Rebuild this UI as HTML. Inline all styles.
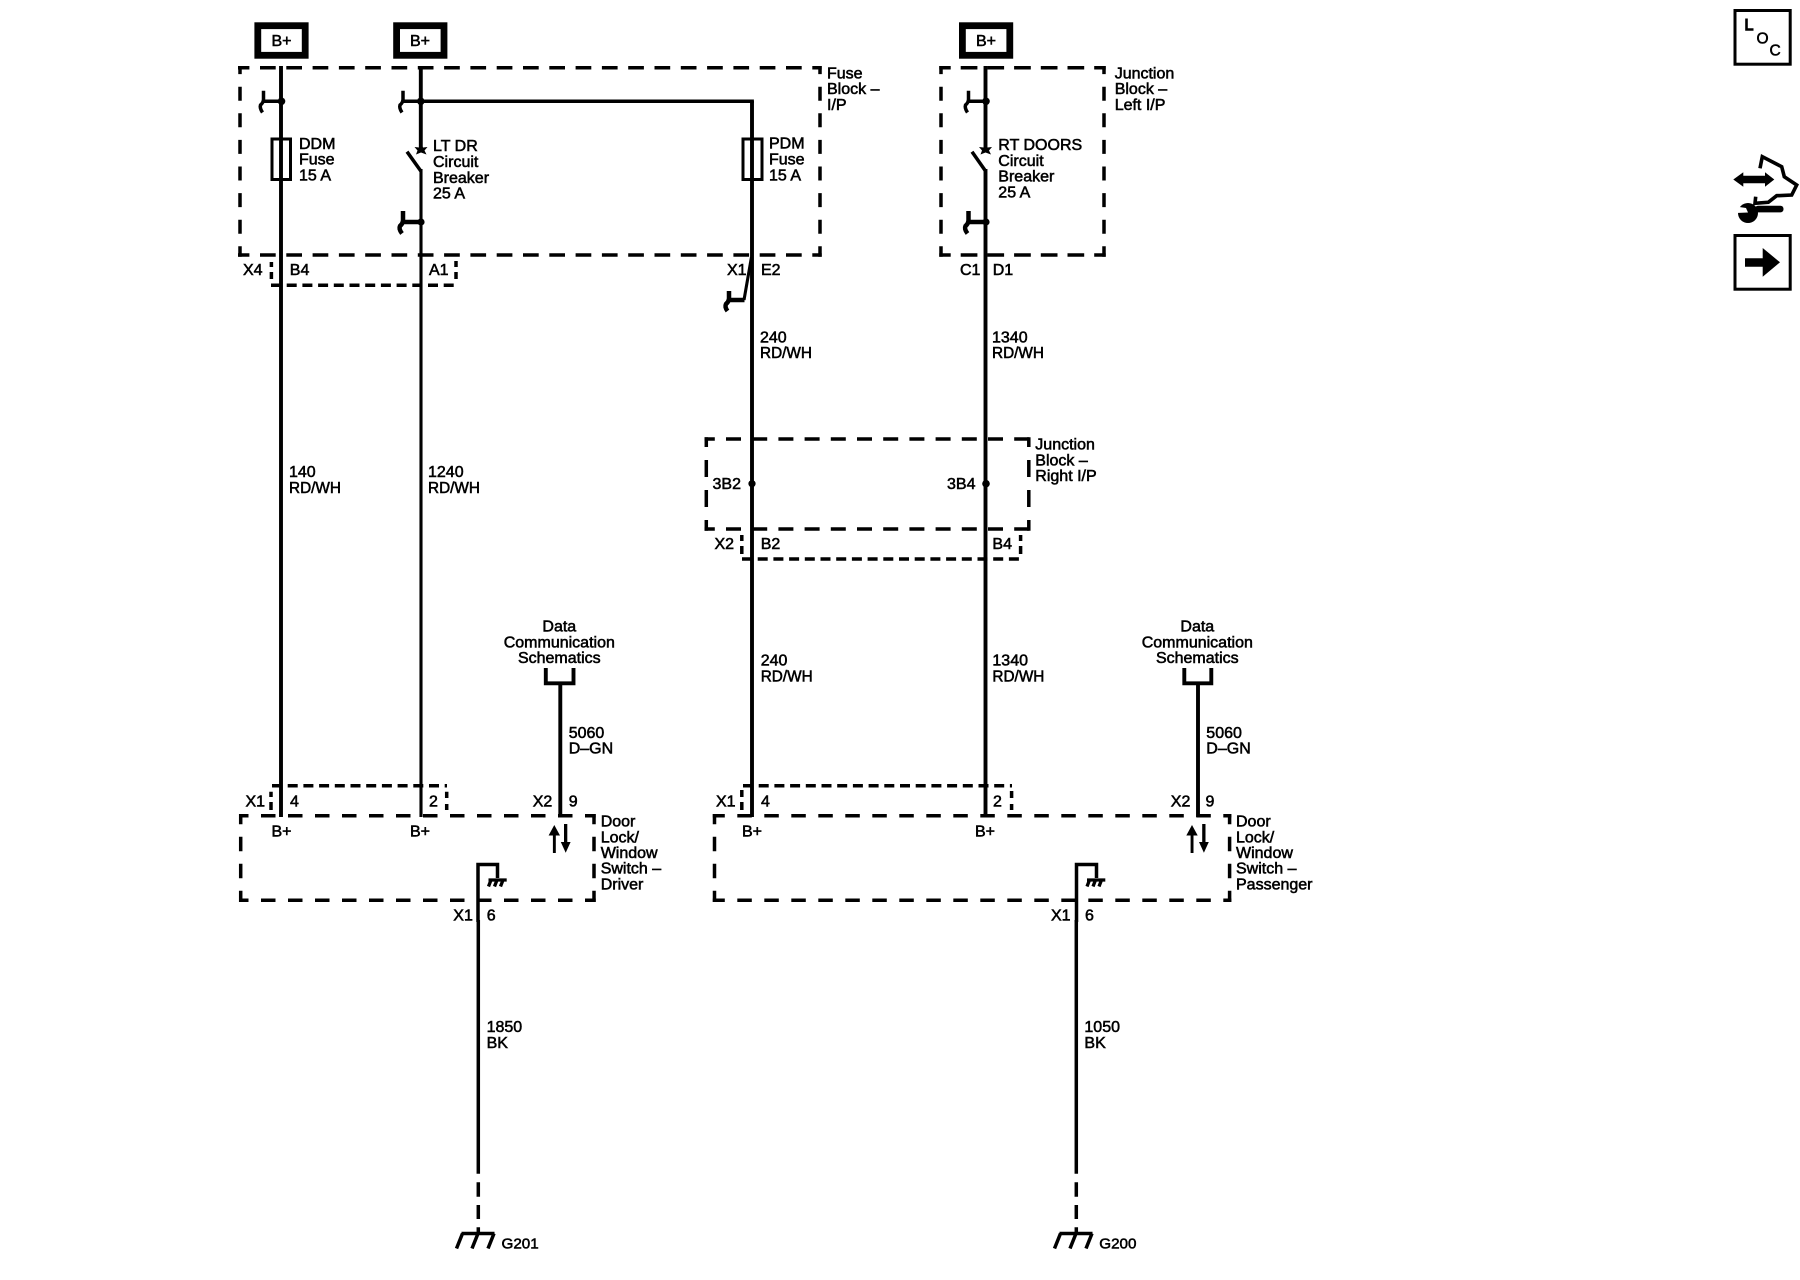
<!DOCTYPE html>
<html><head><meta charset="utf-8"><style>
html,body{margin:0;padding:0;background:#fff}
svg{display:block}
text{font-family:"Liberation Sans",sans-serif;font-size:16px;fill:#000;stroke:#000;stroke-width:.55}
.w{stroke:#000;stroke-width:3.9;fill:none}
.t{stroke:#000;stroke-width:3.1;fill:none}
.u{stroke:#000;stroke-width:3.5;fill:none}
.k{stroke:#000;stroke-width:4.5;fill:none}
.d{stroke:#000;stroke-width:3.5;fill:none}
.s{stroke:#000;stroke-width:3.5;fill:none;stroke-dasharray:10 5.7}
</style></head><body>
<svg width="1800" height="1280" viewBox="0 0 1800 1280" xmlns="http://www.w3.org/2000/svg">
<rect width="1800" height="1280" fill="#fff"/>

<!-- B+ boxes -->
<g fill="none" stroke="#000" stroke-width="6.8">
<rect x="257.8" y="25.7" width="47.4" height="29.6"/>
<rect x="396.6" y="25.7" width="47.4" height="29.6"/>
<rect x="962.4" y="25.7" width="47.4" height="29.6"/>
</g>
<text x="271.5" y="46">B+</text>
<text x="410" y="46">B+</text>
<text x="976" y="46">B+</text>

<!-- Fuse block dashed -->
<line class="d" x1="238" y1="67.7" x2="821.7" y2="67.7" stroke-dasharray="15.7 10.6" stroke-dashoffset="4.3"/>
<line class="d" x1="238" y1="255" x2="821.7" y2="255" stroke-dasharray="15.7 10.6" stroke-dashoffset="4.3"/>
<line class="d" x1="240" y1="66" x2="240" y2="256.7" stroke-dasharray="14 12.6" stroke-dashoffset="5.9"/>
<line class="d" x1="820" y1="66" x2="820" y2="256.7" stroke-dasharray="14 12.6" stroke-dashoffset="5.9"/>
<!-- Left jct dashed -->
<line class="d" x1="939.3" y1="67.7" x2="1105.7" y2="67.7" stroke-dasharray="16.7 10" stroke-dashoffset="5.3"/>
<line class="d" x1="939.3" y1="255" x2="1105.7" y2="255" stroke-dasharray="16.7 10" stroke-dashoffset="5.3"/>
<line class="d" x1="941" y1="66" x2="941" y2="256.7" stroke-dasharray="14 12.6" stroke-dashoffset="5.9"/>
<line class="d" x1="1104" y1="66" x2="1104" y2="256.7" stroke-dasharray="14 12.6" stroke-dashoffset="5.9"/>
<!-- Right jct dashed -->
<line class="d" x1="704.5" y1="439" x2="1030.5" y2="439" stroke-dasharray="15 11.2" stroke-dashoffset="4.7"/>
<line class="d" x1="704.5" y1="529" x2="1030.5" y2="529" stroke-dasharray="15 11.2" stroke-dashoffset="4.7"/>
<line class="d" x1="706.3" y1="437.3" x2="706.3" y2="530.7" stroke-dasharray="17 13" stroke-dashoffset="7.3"/>
<line class="d" x1="1028.8" y1="437.3" x2="1028.8" y2="530.7" stroke-dasharray="17 13" stroke-dashoffset="7.3"/>
<!-- Door boxes -->
<line class="d" x1="239" y1="815.7" x2="595.7" y2="815.7" stroke-dasharray="14.5 12.5" stroke-dashoffset="5"/>
<line class="d" x1="239" y1="900.3" x2="595.7" y2="900.3" stroke-dasharray="14.5 12.5" stroke-dashoffset="5"/>
<line class="d" x1="240.7" y1="814" x2="240.7" y2="902" stroke-dasharray="14.5 12.5" stroke-dashoffset="4.3"/>
<line class="d" x1="594" y1="814" x2="594" y2="902" stroke-dasharray="14.5 12.5" stroke-dashoffset="4.3"/>
<line class="d" x1="712.8" y1="815.7" x2="1231.3" y2="815.7" stroke-dasharray="14.5 12.5" stroke-dashoffset="2.5"/>
<line class="d" x1="712.8" y1="900.3" x2="1231.3" y2="900.3" stroke-dasharray="14.5 12.5" stroke-dashoffset="2.5"/>
<line class="d" x1="714.5" y1="814" x2="714.5" y2="902" stroke-dasharray="14.5 12.5" stroke-dashoffset="4.3"/>
<line class="d" x1="1229.6" y1="814" x2="1229.6" y2="902" stroke-dasharray="14.5 12.5" stroke-dashoffset="4.3"/>

<!-- Small connector dashes -->
<line class="s" x1="271" y1="285.3" x2="456" y2="285.3"/>
<path class="d" d="M271.4 262V267M271.4 272V279M456 261V267M456 272V279"/>
<line class="s" x1="742" y1="559" x2="1021" y2="559"/>
<path class="d" d="M741.8 535V541M741.8 546V554M1020.6 535V541M1020.6 546V554"/>
<line class="s" x1="272" y1="785.7" x2="447" y2="785.7"/>
<path class="d" d="M271 791.7V797M271 802V810M446.7 791.7V798M446.7 804V810"/>
<line class="s" x1="743" y1="785.7" x2="1012" y2="785.7"/>
<path class="d" d="M741.8 790V797M741.8 802V810M1011.6 791V798M1011.6 804V810"/>

<!-- Vertical wires -->
<line class="w" x1="281" y1="66" x2="281" y2="817"/>
<line class="w" x1="420.8" y1="66" x2="420.8" y2="148"/>
<line class="t" x1="421" y1="169" x2="421" y2="817"/>
<line class="w" x1="752" y1="101" x2="752" y2="817"/>
<line class="w" x1="985.5" y1="66" x2="985.5" y2="148"/>
<line class="w" x1="985.5" y1="169" x2="985.5" y2="817"/>
<line class="u" x1="419" y1="101.3" x2="753.9" y2="101.3"/>

<!-- Stubs & dots -->
<g fill="#000">
<circle cx="281.5" cy="101.3" r="3.8"/><circle cx="420.8" cy="101.3" r="3.8"/><circle cx="986" cy="101.3" r="3.8"/>
<circle cx="421" cy="222" r="3.6"/><circle cx="986" cy="222" r="3.6"/>
<circle cx="752" cy="483.7" r="3.6"/><circle cx="986" cy="483.7" r="3.8"/>
</g>
<path class="u" d="M263.5 90.7V101.3H281"/>
<path class="u" d="M263.5 100Q263 103 260.5 105Q259.5 108 262.5 112.5"/>
<path class="u" d="M403 90.7V101.3H420"/>
<path class="u" d="M403 100Q402.5 103 400 105Q399 108 402 112.5"/>
<path class="u" d="M968.5 90.7V101.3H985"/>
<path class="u" d="M968.5 100Q968 103 965.5 105Q964.5 108 967.5 112.5"/>
<path class="k" d="M403 211V222H421"/>
<path class="k" d="M403 221Q402.5 224 400 226Q398.5 229 402 233.5"/>
<path class="k" d="M968.5 211V222H986"/>
<path class="k" d="M968.5 221Q968 224 965.5 226Q964 229 967.5 233.5"/>
<!-- PDM pigtail -->
<path class="t" d="M751.5 257L744 300"/>
<path class="k" d="M744.5 300H729V291"/>
<path class="k" d="M729 299Q728.5 302 726 304Q724.5 307 727.5 311"/>

<!-- Fuses -->
<rect x="272" y="139" width="18.5" height="40.5" fill="none" stroke="#000" stroke-width="3"/>
<rect x="743" y="139" width="19" height="40.5" fill="none" stroke="#000" stroke-width="3"/>

<!-- Breakers -->
<path class="u" d="M407 151.7L420.8 171"/>
<path class="u" d="M972 151.7L985.5 171"/>
<path fill="#000" d="M421 143.5L423 147.5L427.5 147L424.5 150.5L426.5 154.5L421 152.5L416 154.5L417.5 150.5L414.5 147L419 147.5Z"/>
<path fill="#000" d="M985.5 143.5L987.5 147.5L992 147L989 150.5L991 154.5L985.5 152.5L980.5 154.5L982 150.5L979 147L983.5 147.5Z"/>

<!-- Data comm drivers -->
<path class="w" d="M545.8 668V683.3H573.5V668"/>
<line class="w" x1="560.3" y1="684" x2="560.3" y2="817"/>
<path class="w" d="M1184.3 668V683.3H1211.3V668"/>
<line class="w" x1="1198" y1="684" x2="1198" y2="817"/>

<!-- arrows -->
<g fill="#000">
<rect x="552.9" y="833" width="2.9" height="20"/><path d="M554.3 825L560 835.5H548.6Z"/>
<rect x="564" y="824" width="3.3" height="20"/><path d="M565.7 852.7L560.8 842H570.6Z"/>
<rect x="1190.6" y="833" width="2.9" height="20"/><path d="M1192 825L1197.7 835.5H1186.3Z"/>
<rect x="1202.2" y="824" width="3.3" height="20"/><path d="M1203.9 852.7L1199 842H1208.8Z"/>
</g>

<!-- inner grounds -->
<path class="u" d="M478 922V864.5H497.5V878"/>
<path class="u" d="M1076.5 922V864.5H1096.5V878"/>
<path stroke="#000" stroke-width="3.3" fill="none" d="M488.5 880H506.7M491 880L488.5 886.5M497 880L494.5 886.5M503 880L500.5 886.5"/>
<path stroke="#000" stroke-width="3.3" fill="none" d="M1087 880H1105.3M1089.5 880L1087 886.5M1095.5 880L1093 886.5M1101.5 880L1099 886.5"/>

<!-- lower wires -->
<line class="u" x1="478.3" y1="920" x2="478.3" y2="1173.7"/>
<line class="u" x1="1076.3" y1="920" x2="1076.3" y2="1173.7"/>
<path class="u" d="M478.3 1182.3V1196.7M478.3 1205V1219M478.3 1227.3V1234"/>
<path class="u" d="M1076.3 1182.3V1196.7M1076.3 1205V1219M1076.3 1227.3V1234"/>
<path stroke="#000" stroke-width="3.5" fill="none" d="M461.5 1233.5H494.5M462.5 1233.5L456.5 1248.5M478 1233.5L472 1248.5M494 1233.5L488 1248.5"/>
<path stroke="#000" stroke-width="3.5" fill="none" d="M1059.5 1233.5H1092.5M1060.5 1233.5L1054.5 1248.5M1076 1233.5L1070 1248.5M1092 1233.5L1086 1248.5"/>

<!-- Top labels -->
<text x="299" y="149">DDM</text><text x="299" y="164.5">Fuse</text><text x="299" y="180.5">15 A</text>
<text x="433" y="151.2">LT DR</text><text x="433" y="167">Circuit</text><text x="433" y="183">Breaker</text><text x="433" y="198.5">25 A</text>
<text x="769" y="148.5">PDM</text><text x="769" y="164.3">Fuse</text><text x="769" y="180.3">15 A</text>
<text x="827" y="78.3">Fuse</text><text x="827" y="94">Block –</text><text x="827" y="110">I/P</text>
<text x="998.3" y="150">RT DOORS</text><text x="998.3" y="166">Circuit</text><text x="998.3" y="181.7">Breaker</text><text x="998.3" y="197.7">25 A</text>
<text x="1114.7" y="78.3">Junction</text><text x="1114.7" y="94">Block –</text><text x="1114.7" y="110">Left I/P</text>
<text x="243" y="275">X4</text><text x="289.8" y="275">B4</text><text x="429" y="275">A1</text>
<text x="727" y="275">X1</text><text x="761" y="275">E2</text>
<text x="960" y="275">C1</text><text x="992.7" y="275">D1</text>

<text x="760" y="342.3">240</text><text x="760" y="357.8" textLength="52" lengthAdjust="spacingAndGlyphs">RD/WH</text>
<text x="992" y="342.3">1340</text><text x="992" y="357.8" textLength="52" lengthAdjust="spacingAndGlyphs">RD/WH</text>
<text x="289" y="477">140</text><text x="289" y="493" textLength="52" lengthAdjust="spacingAndGlyphs">RD/WH</text>
<text x="428" y="477">1240</text><text x="428" y="493" textLength="52" lengthAdjust="spacingAndGlyphs">RD/WH</text>

<text x="1035.3" y="449.5">Junction</text><text x="1035.3" y="465.3">Block –</text><text x="1035.3" y="481">Right I/P</text>
<text x="712.5" y="489">3B2</text><text x="947" y="489">3B4</text>
<text x="714.5" y="549">X2</text><text x="760.7" y="549">B2</text><text x="992.4" y="549">B4</text>

<text x="760.7" y="665.7">240</text><text x="760.7" y="681.7" textLength="52" lengthAdjust="spacingAndGlyphs">RD/WH</text>
<text x="992.4" y="665.7">1340</text><text x="992.4" y="681.7" textLength="52" lengthAdjust="spacingAndGlyphs">RD/WH</text>

<g text-anchor="middle">
<text x="559.3" y="631.5">Data</text><text x="559.3" y="647.3">Communication</text><text x="559.3" y="663">Schematics</text>
<text x="1197.3" y="631.5">Data</text><text x="1197.3" y="647.3">Communication</text><text x="1197.3" y="663">Schematics</text>
<text x="281.5" y="836.5">B+</text><text x="420" y="836.5">B+</text><text x="752" y="836.5">B+</text><text x="985" y="836.5">B+</text>
</g>
<text x="568.7" y="738">5060</text><text x="568.7" y="753.7">D–GN</text>
<text x="1206.3" y="738">5060</text><text x="1206.3" y="753.7">D–GN</text>

<text x="245.5" y="806.7">X1</text><text x="290" y="806.7">4</text><text x="429" y="806.7">2</text><text x="532.7" y="806.7">X2</text><text x="568.7" y="806.7">9</text>
<text x="716" y="806.7">X1</text><text x="761" y="806.7">4</text><text x="993" y="806.7">2</text><text x="1170.8" y="806.7">X2</text><text x="1205.5" y="806.7">9</text>

<text x="600.7" y="826.7">Door</text><text x="600.7" y="842.3">Lock/</text><text x="600.7" y="858">Window</text><text x="600.7" y="873.7">Switch –</text><text x="600.7" y="889.3">Driver</text>
<text x="1236" y="826.7">Door</text><text x="1236" y="842.3">Lock/</text><text x="1236" y="858">Window</text><text x="1236" y="873.7">Switch –</text><text x="1236" y="889.3">Passenger</text>

<text x="453.3" y="920.5">X1</text><text x="486.7" y="920.5">6</text>
<text x="1051" y="920.5">X1</text><text x="1085" y="920.5">6</text>
<text x="486.6" y="1032">1850</text><text x="486.6" y="1048">BK</text>
<text x="1084.4" y="1032">1050</text><text x="1084.4" y="1048">BK</text>
<text x="501.5" y="1248.5" style="font-size:15.2px">G201</text>
<text x="1099.3" y="1248.5" style="font-size:15.2px">G200</text>

<!-- right icons -->
<rect x="1735" y="10.5" width="55.2" height="53.7" fill="none" stroke="#000" stroke-width="3"/>
<path fill="none" stroke="#000" stroke-width="2.6" d="M1746.5 18.5V29.5H1753.5"/>
<text x="1756.5" y="43.5" style="font-size:15.5px">O</text>
<text x="1769.5" y="55.5" style="font-size:15.5px">C</text>
<rect x="1735" y="235.5" width="55.2" height="53.7" fill="none" stroke="#000" stroke-width="3"/>
<path fill="#000" d="M1745 258.3H1762.7V248L1780 262.3L1762.7 276.7V266.7H1745Z"/>
<path fill="#000" d="M1733.3 179.5L1743.3 172.3V175.7H1765V172.3L1774.3 179.5L1765 186.7V183.3H1743.3V186.7Z"/>
<path fill="none" stroke="#000" stroke-width="3.6" d="M1760 168.3L1762.3 156.7L1781.7 166.7L1784.3 176.7L1796.7 185L1791.7 195L1776.7 195.7L1768.3 202.3L1755 203.3L1755.7 196.7"/>
<circle cx="1748" cy="213" r="10" fill="#000"/>
<path fill="#fff" d="M1736 206.5L1746 208L1748 212.5L1736 213Z"/>
<rect x="1755" y="205.8" width="28.5" height="6.6" rx="3" fill="#000"/>
</svg>
</body></html>
